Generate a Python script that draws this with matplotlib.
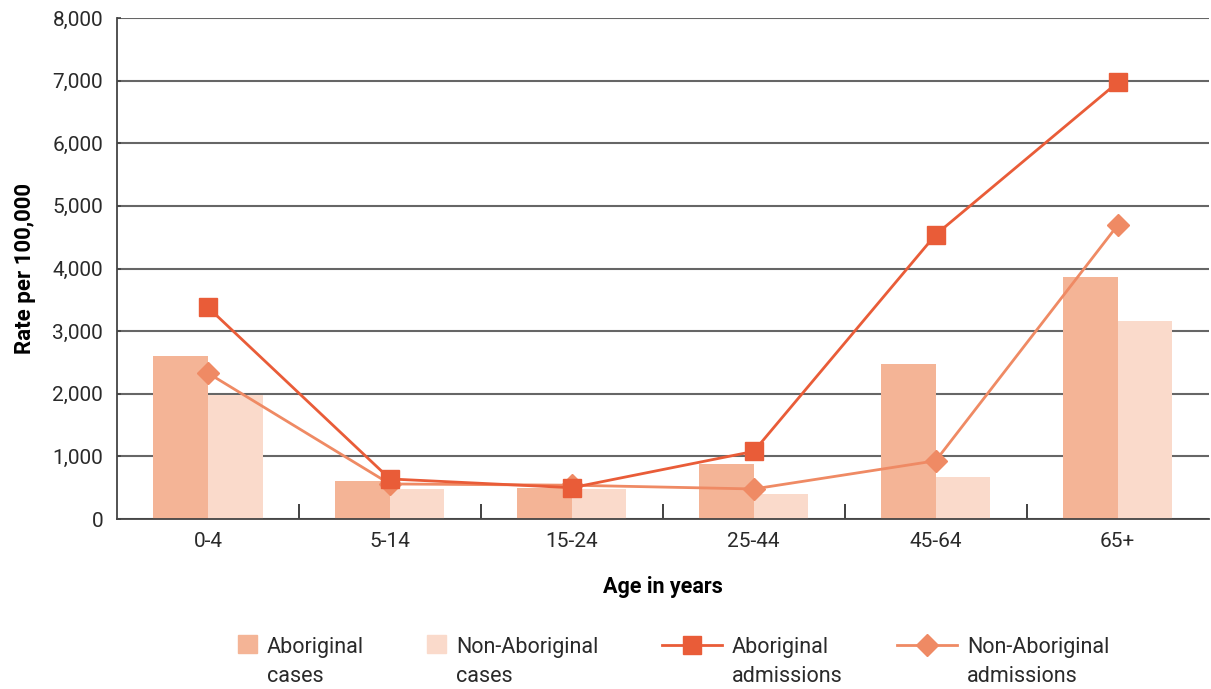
import numpy as np
import matplotlib.pyplot as plt
from matplotlib.ticker import FuncFormatter, FixedLocator
from matplotlib.patches import Patch
from matplotlib.lines import Line2D
from matplotlib.legend_handler import HandlerPatch, HandlerLine2D

# ── Data ────────────────────────────────────────────────────────────────
AGE_GROUPS = ['0-4', '5-14', '15-24', '25-44', '45-64', '65+']
ABOR_CASES = [2600, 610, 500, 880, 2480, 3860]
NONABOR_CASES = [1980, 480, 480, 400, 670, 3160]
ABOR_ADMIT = [3380, 640, 500, 1080, 4540, 6970]
NONABOR_ADMIT = [2330, 560, 540, 480, 930, 4690]

C_ABOR_CASES = '#F4B496'
C_NONABOR_CASES = '#FADACB'
C_ABOR_ADMIT = '#E95C38'
C_NONABOR_ADMIT = '#EF8A64'
TXT = '#2a2a2a'

plt.rcParams['font.family'] = ['Roboto', 'DejaVu Sans']
plt.rcParams['text.color'] = TXT

fig = plt.figure(figsize=(12.11, 6.89), dpi=100)
ax = fig.add_axes([0.0966, 0.2467, 0.9014, 0.7272])

x = np.arange(len(AGE_GROUPS))
w = 0.3
ax.bar(x - w / 2, ABOR_CASES, width=w, color=C_ABOR_CASES, zorder=2)
ax.bar(x + w / 2, NONABOR_CASES, width=w, color=C_NONABOR_CASES, zorder=2)
ax.plot(x, ABOR_ADMIT, color=C_ABOR_ADMIT, lw=2, marker='s', ms=12.5, zorder=4)
ax.plot(x, NONABOR_ADMIT, color=C_NONABOR_ADMIT, lw=2, marker='D', ms=11.5, zorder=3)

ax.set_xlim(-0.5, len(AGE_GROUPS) - 0.5)
ax.set_ylim(0, 8000)
ax.set_yticks(np.arange(0, 8001, 1000))
ax.yaxis.set_major_formatter(FuncFormatter(lambda v, p: f'{int(v):,}'))
ax.grid(axis='y', color='#666666', lw=1.5, zorder=1)
ax.set_axisbelow(True)

ax.set_xticks(x)
ax.set_xticklabels(AGE_GROUPS)
ax.xaxis.set_minor_locator(FixedLocator(x[:-1] + 0.5))
ax.tick_params(axis='x', which='major', length=0, pad=9, labelsize=15, labelcolor=TXT)
ax.tick_params(axis='x', which='minor', direction='in', length=11, width=1.3, color='#333333')
ax.tick_params(axis='y', direction='in', length=3, width=1.2, color='#444444',
               pad=10, labelsize=15, labelcolor=TXT)

for s in ['top', 'right']:
    ax.spines[s].set_visible(False)
for s in ['left', 'bottom']:
    ax.spines[s].set_color('#444444')
    ax.spines[s].set_linewidth(1.3)

ax.set_xlabel('Age in years', fontsize=15.5, fontweight='bold', labelpad=18)
ax.set_ylabel('Rate per 100,000', fontsize=16, fontweight='bold', labelpad=12)


# ── Legend: four separate one-item legends, handle aligned with first line
SHIFT_P = 13.5  # points
SHIFT_L = 12.0


class UpPatch(HandlerPatch):
    def create_artists(self, legend, orig_handle, xdescent, ydescent, width, height, fontsize, trans):
        return super().create_artists(legend, orig_handle, xdescent, ydescent - SHIFT_P,
                                      width, height, fontsize, trans)


class UpLine(HandlerLine2D):
    def create_artists(self, legend, orig_handle, xdescent, ydescent, width, height, fontsize, trans):
        return super().create_artists(legend, orig_handle, xdescent, ydescent - 2 * SHIFT_L,
                                      width, height, fontsize, trans)


FS = 15.5
FS_PX = FS * 100 / 72
items = [
    (Patch(color=C_ABOR_CASES), 'Aboriginal\ncases', 238, 19),
    (Patch(color=C_NONABOR_CASES), 'Non-Aboriginal\ncases', 427, 19),
    (Line2D([], [], color=C_ABOR_ADMIT, lw=2, marker='s', ms=12.5),
     'Aboriginal\nadmissions', 662, 60),
    (Line2D([], [], color=C_NONABOR_ADMIT, lw=2, marker='D', ms=11.5),
     'Non-Aboriginal\nadmissions', 897, 60),
]
for h, lab, px, hw in items:
    leg = fig.legend([h], [lab], loc='upper left', bbox_to_anchor=(px / 1211, 1 - 637 / 689),
                     frameon=False, fontsize=FS, borderpad=0, borderaxespad=0,
                     handlelength=hw / FS_PX, handleheight=20 / FS_PX,
                     handletextpad=10 / FS_PX, labelspacing=0,
                     handler_map={Patch: UpPatch(), Line2D: UpLine()})
    for t in leg.get_texts():
        t.set_linespacing(1.5)

fig.savefig('out.png', dpi=100)
